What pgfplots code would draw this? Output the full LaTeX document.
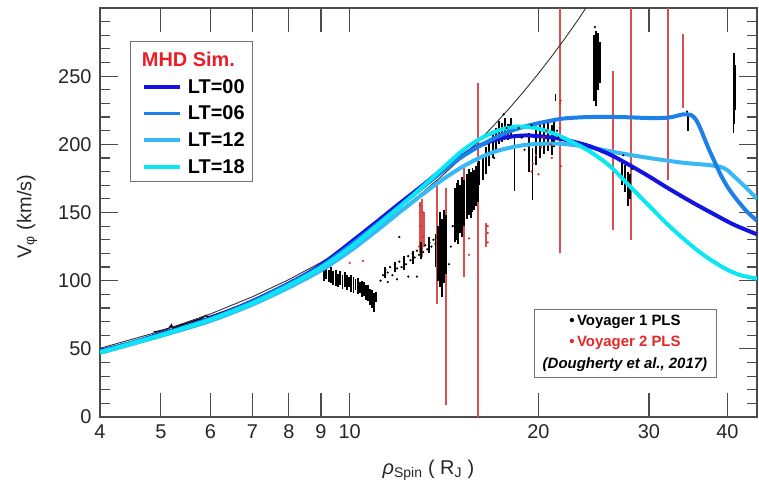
\documentclass[border=0pt]{standalone}
\usepackage{pgfplots}
\pgfplotsset{compat=1.18}
\usepackage{fontspec}
\setmainfont{Liberation Sans}
\definecolor{ltzero}{RGB}{20,20,225}
\definecolor{ltsix}{RGB}{28,128,232}
\definecolor{lttwelve}{RGB}{55,185,245}
\definecolor{lteighteen}{RGB}{10,230,242}
\definecolor{mhdred}{RGB}{235,30,40}
\definecolor{vred}{RGB}{228,40,40}
\definecolor{vline}{RGB}{215,80,80}
\definecolor{axgray}{RGB}{75,75,75}
\begin{document}
\begin{tikzpicture}
\path[use as bounding box] (-100bp,-73bp) rectangle (659bp,417bp);
\begin{axis}[
  at={(0,0)}, anchor=south west,
  scale only axis, width=657bp, height=409bp,
  xmode=log, xmin=4, xmax=44.6, ymin=0, ymax=300,
  xtick={4,5,6,7,8,9,10,20,30,40},
  xticklabels={4,5,6,7,8,9,10,20,30,40},
  xminorticks=false,
  ytick={0,50,...,250},
  minor ytick={0,10,...,290},
  tick align=inside,
  major tick length=18bp, minor tick length=10bp,
  xtick style={/pgfplots/major tick length=24bp},
  every tick/.style={axgray, line width=1.2bp},
  axis line style={axgray, line width=1.2bp},
  /pgf/number format/assume math mode=true,
  tick label style={font=\fontsize{20}{24}\selectfont, text=black!85},
  yticklabel style={xshift=-5bp},
  xticklabel style={yshift=-4bp},
  every axis x label/.style={at={(axis description cs:0.5,-0.13)}, anchor=center,
    font=\fontsize{20}{24}\selectfont, text=black!85},
  every axis y label/.style={at={(axis description cs:-0.111,0.49)}, anchor=center,
    rotate=90, font=\fontsize{20}{24}\selectfont, text=black!85},
  xlabel={{\itshape ρ}\textsubscript{Spin} ( R\textsubscript{J} )},
  ylabel={V\textsubscript{φ} (km/s)},
  legend cell align=left,
  legend style={at={(rel axis cs:0.0457,0.919)}, anchor=north west,
    draw=black!55, line width=0.9bp, fill=white,
    font=\bfseries\fontsize{20}{22}\selectfont,
    inner xsep=6bp, inner ysep=5bp, row sep=7.2bp, column sep=4bp,
    nodes={inner sep=2bp}},
  legend image code/.code={\path (0bp,0bp); \draw[#1] (6bp,0bp) -- (42bp,0bp);},
]
% ---- legend entries (MHD) ----
\addlegendimage{empty legend}
\addlegendentry{\hspace*{-46bp}\textcolor{mhdred}{\rule[-2bp]{0pt}{20bp}MHD Sim.}}
\addlegendimage{ltzero, line width=3.5bp}
\addlegendentry{LT=00}
\addlegendimage{ltsix, line width=3.5bp}
\addlegendentry{LT=06}
\addlegendimage{lttwelve, line width=3.5bp}
\addlegendentry{LT=12}
\addlegendimage{lteighteen, line width=3.5bp}
\addlegendentry{LT=18}

% ---- Voyager 2 vertical red lines ----
\addplot[forget plot, vline, line width=1.8bp, unbounded coords=jump] coordinates {
 (12.95,120) (12.95,158) (12.95,nan)
 (13.05,117) (13.05,160) (13.05,nan)
 (13.15,125) (13.15,150) (13.15,nan)
 (13.8,83) (13.8,174) (13.8,nan)
 (14.26,9) (14.26,168) (14.26,nan)
 (15.2,103) (15.2,185) (15.2,nan)
 (16.02,0) (16.02,245) (16.02,nan)
 (16.5,125) (16.5,142) (16.5,nan)
 (21.65,120) (21.65,300) (21.65,nan)
 (26.3,137) (26.3,254) (26.3,nan)
 (28.1,130) (28.1,300) (28.1,nan)
 (32.2,174) (32.2,300) (32.2,nan)
 (34.0,227) (34.0,281)
};

% ---- Voyager 1 trace along corotation ----
\addplot[forget plot, black, line width=1.5bp] coordinates {
 (4.87,62.3) (4.95,62.8) (5.05,63.8) (5.15,65) (5.2,67.5) (5.22,65.3)
 (5.35,67) (5.5,68.8) (5.65,70.5) (5.8,72.2) (5.9,74.5) (5.95,73.3)
 (6.1,75) (6.3,77.3) (6.5,79.7) (6.7,82) (6.9,84.5) (7.1,87) (7.4,90.5)
 (7.7,94.3) (8.0,98.3) (8.3,102)
};

% ---- Voyager 1 dense columns ----
\addplot[forget plot, black, line width=1.8bp, unbounded coords=jump] coordinates {
 (9.10,100) (9.10,111) (9.10,nan) (9.18,101) (9.18,112) (9.18,nan)
 (9.26,99) (9.26,108) (9.26,nan) (9.34,98) (9.34,110) (9.34,nan)
 (9.42,97) (9.42,107) (9.42,nan) (9.50,96) (9.50,108) (9.50,nan)
 (9.58,95) (9.58,105) (9.58,nan) (9.66,97) (9.66,107) (9.66,nan)
 (9.74,94) (9.74,104) (9.74,nan) (9.82,95) (9.82,106) (9.82,nan)
 (9.90,93) (9.90,104) (9.90,nan) (9.98,95) (9.98,103) (9.98,nan)
 (10.06,92) (10.06,104) (10.06,nan) (10.14,91) (10.14,103) (10.14,nan)
 (10.22,93) (10.22,101) (10.22,nan) (10.30,90) (10.30,102) (10.30,nan)
 (10.38,91) (10.38,99) (10.38,nan) (10.46,88) (10.46,100) (10.46,nan)
 (10.54,89) (10.54,99) (10.54,nan) (10.62,86) (10.62,97) (10.62,nan)
 (10.70,85) (10.70,97) (10.70,nan) (10.78,82) (10.78,94) (10.78,nan)
 (10.86,80) (10.86,93) (10.86,nan) (10.94,77) (10.94,91) (10.94,nan)
 (11.02,84) (11.02,92) (11.02,nan)
 (11.4,102) (11.4,110) (11.4,nan) (11.8,106) (11.8,114) (11.8,nan)
 (12.2,108) (12.2,118) (12.2,nan) (12.6,112) (12.6,122) (12.6,nan)
 (13.0,116) (13.0,128) (13.0,nan) (13.4,120) (13.4,132) (13.4,nan)
 (13.7,110) (13.7,134) (13.7,nan)
 (13.85,100) (13.85,140) (13.85,nan) (13.95,95) (13.95,150) (13.95,nan)
 (14.05,88) (14.05,145) (14.05,nan) (14.15,98) (14.15,152) (14.15,nan)
 (14.25,105) (14.25,148) (14.25,nan)
 (14.7,128) (14.7,168) (14.7,nan) (14.8,130) (14.8,172) (14.8,nan)
 (14.9,127) (14.9,174) (14.9,nan) (15.0,135) (15.0,170) (15.0,nan)
 (15.1,132) (15.1,176) (15.1,nan) (15.2,140) (15.2,174) (15.2,nan)
 (15.4,145) (15.4,178) (15.4,nan) (15.5,148) (15.5,182) (15.5,nan)
 (15.6,146) (15.6,180) (15.6,nan) (15.7,150) (15.7,183) (15.7,nan)
 (15.8,152) (15.8,181) (15.8,nan) (15.9,155) (15.9,184) (15.9,nan)
 (16.0,158) (16.0,186) (16.0,nan)
 (16.1,170) (16.1,188) (16.1,nan) (16.3,174) (16.3,192) (16.3,nan)
 (16.5,178) (16.5,198) (16.5,nan) (16.7,184) (16.7,203) (16.7,nan)
 (16.9,190) (16.9,208) (16.9,nan) (17.1,196) (17.1,212) (17.1,nan)
 (17.3,200) (17.3,217) (17.3,nan) (17.5,202) (17.5,216) (17.5,nan)
 (17.7,205) (17.7,219) (17.7,nan) (17.9,203) (17.9,215) (17.9,nan)
 (18.1,206) (18.1,219) (18.1,nan)
 (19.3,180) (19.3,208) (19.3,nan) (19.8,185) (19.8,212) (19.8,nan)
 (20.1,190) (20.1,214) (20.1,nan) (20.4,193) (20.4,216) (20.4,nan)
 (20.7,195) (20.7,218) (20.7,nan) (21.0,192) (21.0,214) (21.0,nan)
 (21.2,198) (21.2,217) (21.2,nan)
 (24.5,232) (24.5,280) (24.5,nan) (24.7,228) (24.7,283) (24.7,nan)
 (24.9,240) (24.9,282) (24.9,nan) (25.1,245) (25.1,275) (25.1,nan)
 (27.2,170) (27.2,188) (27.2,nan) (27.5,165) (27.5,185) (27.5,nan)
 (27.8,155) (27.8,180) (27.8,nan) (28.0,160) (28.0,178) (28.0,nan)
 (34.6,210) (34.6,221) (34.6,nan)
 (40.9,208) (40.9,265) (40.9,nan) (41.0,215) (41.0,267) (41.0,nan)
 (41.1,225) (41.1,258)
};
% thin black columns
\addplot[forget plot, black, line width=1bp, unbounded coords=jump] coordinates {
 (18.3,166) (18.3,205) (18.3,nan) (19.6,159) (19.6,197) (19.6,nan)
 (21.3,232) (21.3,237)
};

% ---- Voyager 1 scattered points ----
\addplot[forget plot, only marks, mark=*, mark size=0.9bp, black] coordinates {
 (11.2,100) (11.3,104) (11.4,108) (11.5,106) (11.5,99) (11.6,110) (11.7,104)
 (11.8,112) (11.9,109) (11.9,101) (12.0,114) (12.0,132) (12.1,110) (12.2,116)
 (12.3,112) (12.4,118) (12.4,103) (12.5,115) (12.6,120) (12.7,117) (12.8,103)
 (12.8,122) (12.9,119) (13.0,124) (13.1,121) (13.2,126) (13.3,123) (13.4,128)
 (13.5,125) (13.6,130) (13.7,127) (13.8,132) (14.4,112) (14.5,125) (14.6,140)
 (17.0,190) (17.6,222) (17.8,212) (18.0,214) (18.6,212) (18.8,205) (19.0,196)
 (19.5,214) (21.4,210) (21.5,205) (24.6,286) (27.3,192) (28.2,182) (34.5,224)
};

% ---- Voyager 2 scattered points ----
\addplot[forget plot, only marks, mark=*, mark size=0.9bp, vred] coordinates {
 (10.0,113) (10.5,114.5) (12.9,125) (13.0,140) (13.1,150) (12.95,155) (13.1,132)
 (15.5,131) (15.5,119) (16.6,128) (16.6,135) (16.6,140) (19.5,180) (19.6,186)
 (19.8,192) (20.0,178) (20.2,198) (20.4,205) (20.6,210) (20.9,200) (21.0,190)
 (21.65,230) (21.7,232) (21.65,212) (21.7,184)
};

% ---- corotation line ----
\addplot[forget plot, black!80, line width=0.9bp] coordinates {
 (4,50.4) (5,63) (6,75.6) (7,88.2) (8,100.8) (9,113.4) (10,126) (11,138.6)
 (12,151.2) (13,163.8) (14,176.4) (15,189) (16,201.6) (17,214.2) (18,226.8)
 (19,239.4) (20,252) (21,264.6) (22,277.2) (23,289.8) (24,302.4)
};

% ---- MHD model curves ----
\addplot[forget plot, lttwelve, line width=4bp, smooth, tension=0.5] coordinates {
 (4,47) (5,59.5) (6,70.5) (7,82.5) (8,95) (9,107.5) (10,121.5) (11,136) (12,150)
 (13,162.5) (14,173.5) (15,182.5) (16,189.5) (17,194.5) (18,197.5) (19,199.5)
 (20,200.3) (21,200.5) (22,200.2) (24,198) (27,193.5) (30,190) (34,186.5)
 (37,185) (39,183.5) (40,181) (41,176.5) (42,172) (43,167.5) (44.6,160)
};
\addplot[forget plot, ltzero, line width=4bp, smooth, tension=0.5] coordinates {
 (4,48.5) (4.5,54.5) (5,61) (5.5,66.5) (6,72.5) (6.5,78.5) (7,85) (7.5,91.5)
 (8,98) (8.5,104.5) (9,111.5) (9.5,119.5) (10,127.5) (11,142.5) (12,156.5)
 (13,169) (14,181) (15,190.5) (16,198.5) (17,203) (18,205.5) (19,206.5)
 (20,206) (21,205) (22,203.5) (24,199) (26,192.5) (28,184.5) (30,176.5)
 (32,168.5) (35,158) (38,149) (41,141) (44.6,134)
};
\addplot[forget plot, ltsix, line width=4bp, smooth, tension=0.5] coordinates {
 (4,48) (5,60.5) (6,72) (7,84.5) (8,97.5) (9,110.5) (10,125.5) (11,140.5)
 (12,154.5) (13,167.5) (14,179.5) (15,190) (16,198) (17,204.5) (18,209.5)
 (19,213) (20,215.5) (21,217.5) (22,219) (24,220) (27,220) (30,219.3)
 (32,219.5) (33,220.5) (34,222) (35,221.5) (35.6,218.5) (36.2,212) (36.8,204)
 (37.5,195) (38.2,187) (39.1,177) (40,169) (41,162) (42,156) (43,150.5) (44.6,144)
};
\addplot[forget plot, lteighteen, line width=4bp, smooth, tension=0.5] coordinates {
 (4,47.5) (5,60) (6,71.5) (7,83.5) (8,96.5) (9,109.5) (10,124) (11,139.5)
 (12,154) (13,168) (14,181.5) (15,194) (16,203) (17,209) (18,212.5) (19,213)
 (20,211.5) (21,208.5) (22,204.5) (24,195.5) (26,184) (28,169) (30,155)
 (32,142) (34,131) (36,121.5) (38,114) (40,108) (42,104) (44.6,101.5)
};

% ---- Voyager legend ----
\node[draw=black!55, line width=0.9bp, fill=white, inner sep=0pt,
      minimum width=182bp, minimum height=68bp, align=center,
      font=\bfseries\fontsize{15}{21.5}\selectfont]
  at (rel axis cs:0.799,0.181)
  {•\,Voyager 1 PLS\\ \textcolor{vred}{•\,Voyager 2 PLS}\\ \textit{(Dougherty et al., 2017)}};
\end{axis}
\end{tikzpicture}
\end{document}
